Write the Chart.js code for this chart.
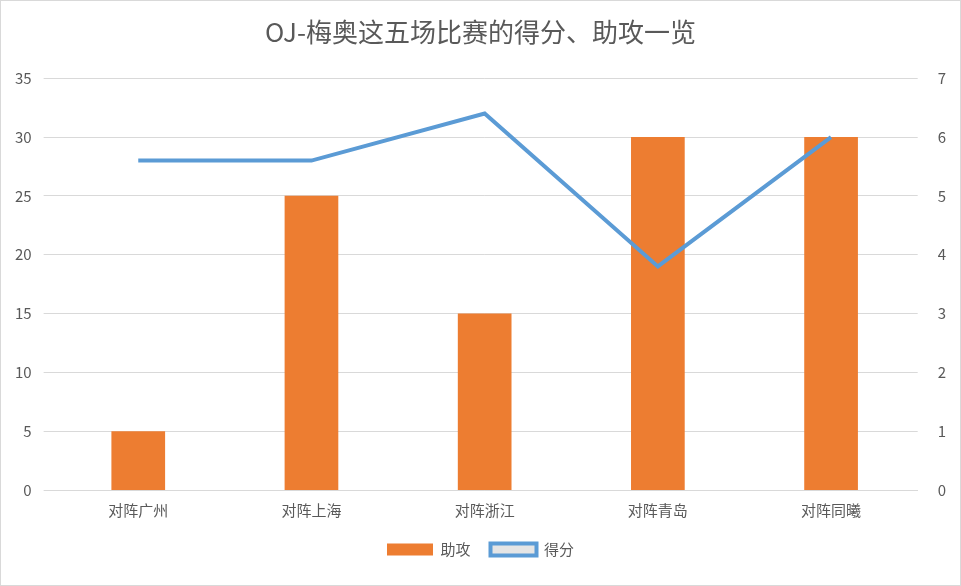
<!DOCTYPE html>
<html>
<head>
<meta charset="utf-8">
<script src="https://cdn.jsdelivr.net/npm/chart.js@4"></script>
<style>
  body { margin: 0; background: #fff; }
  #wrap { width: 959px; height: 584px; border: 1px solid #d9d9d9; }
</style>
</head>
<body>
<div id="wrap"><canvas id="c"></canvas></div>
<script>
const categories = ["对阵广州", "对阵上海", "对阵浙江", "对阵青岛", "对阵同曦"];
const assists = [1, 5, 3, 6, 6];
const points = [28, 28, 32, 19, 30];
const leftTicks = [0, 5, 10, 15, 20, 25, 30, 35];

const font = { family: "'Noto Sans CJK SC', 'Noto Sans', sans-serif", size: 15 };

new Chart(document.getElementById("c"), {
  data: {
    labels: categories,
    datasets: [
      { type: "line", label: "得分", data: points, yAxisID: "y", borderColor: "#5b9bd5", borderWidth: 4,
        pointRadius: 0, pointStyle: "line", tension: 0, order: 0 },
      { type: "bar", label: "助攻", data: assists, yAxisID: "y1", backgroundColor: "#ed7d31",
        barPercentage: 0.31, categoryPercentage: 1, order: 1 },
    ],
  },
  options: {
    responsive: true,
    maintainAspectRatio: false,
    animation: false,
    layout: { padding: { left: 2, right: 2, top: 10, bottom: 18 } },
    scales: {
      x: { grid: { display: false }, border: { color: "#d9d9d9" }, ticks: { color: "#595959", font } },
      y: { position: "left", min: 0, max: 35, afterBuildTicks: (s) => { s.ticks = leftTicks.map((v) => ({ value: v })); },
        grid: { color: "#d9d9d9" }, border: { display: false }, ticks: { color: "#595959", font, padding: 12 } },
      y1: { position: "right", min: 0, max: 7, ticks: { stepSize: 1, color: "#595959", font, padding: 12 },
        grid: { display: false }, border: { display: false } },
    },
    plugins: {
      title: { display: true, text: "OJ-梅奥这五场比赛的得分、助攻一览", color: "#595959",
        font: { family: font.family, size: 26, weight: "normal" }, padding: { top: 6, bottom: 30 } },
      legend: {
        position: "bottom",
        reverse: true,
        labels: { color: "#595959", font, boxWidth: 46, boxHeight: 12, padding: 20,
          generateLabels: (chart) => Chart.defaults.plugins.legend.labels.generateLabels(chart).map((l) => {
            if (l.text === "得分") { l.pointStyle = "line"; l.lineWidth = 4; }
            return l;
          }),
          usePointStyle: false },
      },
    },
  },
});
</script>
</body>
</html>
